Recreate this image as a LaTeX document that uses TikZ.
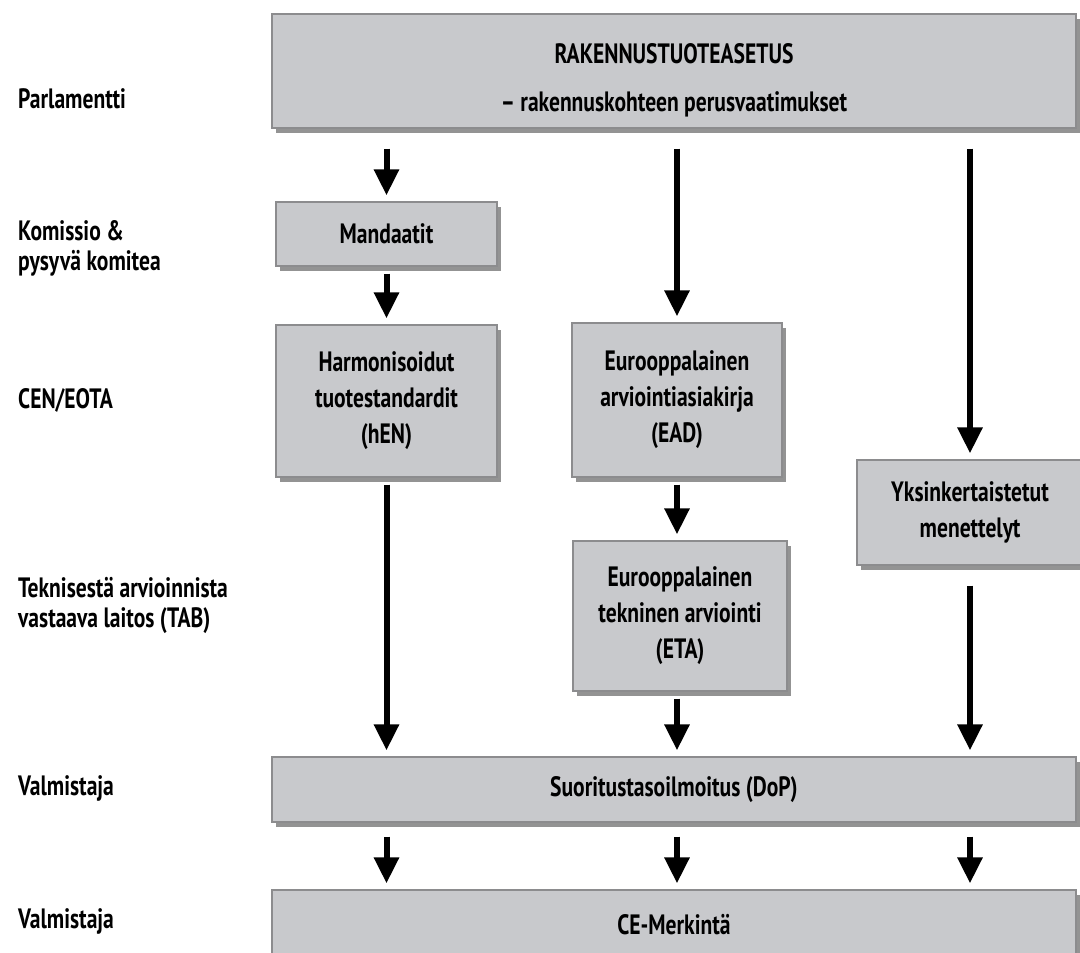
\documentclass[tikz,border=0pt]{standalone}
\usepackage{fontspec}
\setmainfont{PT Sans}[FakeStretch=0.77]
\usetikzlibrary{arrows.meta,shadows,positioning}

\definecolor{boxgray}{RGB}{200,201,204}
\definecolor{edgegray}{RGB}{140,140,142}

\tikzset{
  levelbox/.style={rectangle, draw=edgegray, fill=boxgray, line width=1.2pt, align=center, inner sep=0pt,
    font=\fontsize{28}{36}\bfseries\selectfont,
    drop shadow={shadow xshift=4pt, shadow yshift=-5pt, fill=black!60, opacity=0.7}},
  flow/.style={line width=6pt, -{Triangle[width=24pt,length=26pt]}, shorten <=7pt, shorten >=6pt},
  actor/.style={anchor=west, align=left, inner sep=0pt, font=\fontsize{28}{30}\bfseries\selectfont}
}

\begin{document}
\begin{tikzpicture}[x=1pt,y=-1pt]
    \clip (0,0) rectangle (1080,953);
    \fill[white] (0,0) rectangle (1080,953);

    % vasen sarake
    \node(parl) [actor] at (18,99) {Parlamentti};
    \node(komissio) [actor] at (18,248) {Komissio \&\\pysyvä komitea};
    \node(cen) [actor] at (18,400) {CEN/EOTA};
    \node(tab) [actor] at (18,605) {Teknisestä arvioinnista\\vastaava laitos (TAB)};
    \node(valm) [actor] at (18,788) {Valmistaja};
    \node(valmce) [actor] at (18,921) {Valmistaja};

    % laatikot
    \node(top) [levelbox, minimum width=804, minimum height=114] at (674,71)
        {\rule{0pt}{38pt}RAKENNUSTUOTEASETUS\\[12pt]– rakennuskohteen perusvaatimukset};
    \node(mand) [levelbox, minimum width=221, minimum height=64] at (386.5,234) {Mandaatit};
    \node(hen) [levelbox, minimum width=221, minimum height=152] at (386.5,401)
        {Harmonisoidut\\tuotestandardit\\(hEN)};
    \node(ead) [levelbox, minimum width=210, minimum height=154] at (677,400)
        {Eurooppalainen\\arviointiasiakirja\\(EAD)};
    \node(eta) [levelbox, minimum width=214, minimum height=150] at (680,616)
        {Eurooppalainen\\tekninen arviointi\\(ETA)};
    \node(yks) [levelbox, minimum width=226, minimum height=105] at (970,512.5)
        {Yksinkertaistetut\\menettelyt};
    \node(dop) [levelbox, minimum width=804, minimum height=65] at (674,789.5)
        {Suoritustasoilmoitus (DoP)};
    \node(ce) [levelbox, minimum width=804, minimum height=70] at (674,925) {CE-Merkintä};

    % nuolet
    \draw[flow, shorten <=20pt] (top.south -| mand) -- (mand.north);
    \draw[flow, shorten <=20pt] (top.south -| ead) -- (ead.north);
    \draw[flow, shorten <=20pt] (top.south -| yks) -- (yks.north);
    \draw[flow] (mand) -- (hen);
    \draw[flow] (ead) -- (ead |- eta.north);
    \draw[flow] (hen) -- (dop.north -| hen);
    \draw[flow] (ead |- eta.south) -- (dop.north -| ead);
    \draw[flow, shorten <=20pt] (yks) -- (dop.north -| yks);
    \foreach \col in {hen,ead,yks}
        \draw[flow, shorten <=14pt] (dop.south -| \col) -- (ce.north -| \col);
\end{tikzpicture}
\end{document}
